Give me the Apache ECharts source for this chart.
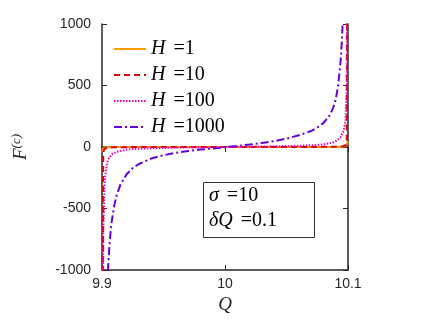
<!DOCTYPE html>
<html lang="en">
<head>
    <meta charset="utf-8">
    <title>F(c) vs Q</title>
    <script src="https://cdn.jsdelivr.net/npm/echarts@6/dist/echarts.min.js"></script>
    <style>
        html, body { margin: 0; padding: 0; background: #fff; }
        #chart { width: 436px; height: 327px; }
    </style>
</head>
<body>
<div id="chart"></div>
<script type="text/javascript">
    // Q samples (denser near the two edges)
    var qValues = [9.9, 9.901, 9.902, 9.903, 9.904, 9.905, 9.906, 9.907, 9.908, 9.91,
        9.912, 9.915, 9.92, 9.925, 9.93, 9.94, 9.95, 9.96, 9.97, 9.98,
        10,
        10.02, 10.03, 10.04, 10.05, 10.06, 10.07, 10.075, 10.08, 10.085, 10.088,
        10.09, 10.092, 10.094, 10.095, 10.096, 10.097, 10.098, 10.099, 10.1];

    // values (out-of-range points get clipped by the grid)
    var h1Values = [-40, -10, -6, -4, -3, -3, -2, -2, -2, -1,
        -1, -1, -1, 0, 0, 0, 0, 0, 0, 0,
        0,
        0, 0, 0, 0, 0, 0, 0, 0, 1, 1,
        1, 1, 2, 2, 3, 4, 6, 10, 45];
    var h10Values = [-5000, -40, -15, -9, -6, -5, -4, -4, -3, -3,
        -2, -2, -2, -1, -1, -1, -1, 0, 0, 0,
        0,
        0, 0, 1, 1, 1, 1, 1, 2, 2, 2,
        3, 3, 4, 5, 6, 8, 14, 40, 5000];
    var h100Values = [-5000, -700, -330, -200, -140, -105, -85, -70, -60, -48,
        -40, -32, -22, -17, -14, -10, -8, -6, -4, -3,
        0,
        3, 4, 6, 8, 10, 14, 17, 22, 30, 38,
        48, 62, 80, 95, 120, 160, 220, 500, 5000];
    var h1000Values = [-4000, -4000, -2500, -1640, -1224, -974, -807, -688, -599, -474,
        -390, -306, -222, -171, -138, -94, -67, -47, -33, -21,
        -2,
        20, 33, 48, 68, 95, 130, 158, 195, 255, 320,
        385, 500, 700, 860, 1080, 1400, 2100, 4000, 4000];

    var seriesNames = ['H =1', 'H =10', 'H =100', 'H =1000'];
    var seriesValues = [h1Values, h10Values, h100Values, h1000Values];
    var seriesColors = ['#ff9a00', '#dd0000', '#ee00bb', '#6600dd'];
    var seriesDash = ['solid', [6, 4], [1.5, 1.5], [8, 3, 2, 3]];

    var xTicks = { min: 9.9, max: 10.1, interval: 0.1 };
    var yTicks = { min: -1000, max: 1000, interval: 500 };

    var axisColor = '#262626';
    var chart = echarts.init(document.getElementById('chart'));

    function pairs(vals) {
        var out = [];
        for (var i = 0; i < qValues.length; i++) {
            out.push([qValues[i], vals[i]]);
        }
        return out;
    }

    var series = [];
    for (var s = 0; s < seriesNames.length; s++) {
        series.push({
            name: seriesNames[s],
            type: 'line',
            data: pairs(seriesValues[s]),
            showSymbol: false,
            symbol: 'none',
            clip: true,
            color: seriesColors[s],
            lineStyle: { color: seriesColors[s], width: 2, type: seriesDash[s] },
            animation: false
        });
    }

    var mathFont = '"Liberation Serif", "DejaVu Serif", serif';
    var tickFont = { color: axisColor, fontSize: 14, fontFamily: '"Liberation Sans", Arial, sans-serif' };

    var option = {
        animation: false,
        grid: { left: 102, right: 88, top: 24, bottom: 57 },
        legend: {
            orient: 'vertical',
            left: 108,
            top: 34,
            itemWidth: 32,
            itemHeight: 14,
            itemGap: 6,
            itemStyle: { opacity: 0 },
            data: seriesNames,
            formatter: function (name) {
                var parts = name.split(' ');
                return '{i|' + parts[0] + '}{s| }{n|' + parts[1] + '}';
            },
            textStyle: {
                rich: {
                    i: { fontFamily: mathFont, fontStyle: 'italic', fontSize: 20, color: '#000', lineHeight: 18 },
                    s: { fontFamily: mathFont, fontSize: 20, width: 8, lineHeight: 18 },
                    n: { fontFamily: mathFont, fontSize: 20, color: '#000', lineHeight: 18 }
                }
            }
        },
        title: {
            text: '{i|σ}{s| }{n|=10}\n{i|δQ}{s| }{n|=0.1}',
            left: 203,
            top: 180,
            borderColor: '#333',
            borderWidth: 1,
            padding: [3, 38, 7, 6],
            textStyle: {
                fontWeight: 'normal',
                rich: {
                    i: { fontFamily: mathFont, fontStyle: 'italic', fontWeight: 'normal', fontSize: 20, color: '#000', lineHeight: 25 },
                    s: { fontFamily: mathFont, fontSize: 20, width: 8, lineHeight: 25 },
                    n: { fontFamily: mathFont, fontWeight: 'normal', fontSize: 20, color: '#000', lineHeight: 25 }
                }
            }
        },
        xAxis: [{
            type: 'value',
            min: xTicks.min,
            max: xTicks.max,
            interval: xTicks.interval,
            name: 'Q',
            nameLocation: 'middle',
            nameGap: 23,
            nameTextStyle: { fontFamily: mathFont, fontStyle: 'italic', fontSize: 19, color: axisColor },
            axisLine: { onZero: false, lineStyle: { color: axisColor, width: 1.5 } },
            axisTick: { inside: true, length: 5, lineStyle: { color: axisColor } },
            axisLabel: Object.assign({ margin: 7, formatter: function (v) { return +v.toFixed(1) + ''; } }, tickFont),
            splitLine: { show: false }
        }, {
            type: 'value',
            position: 'top',
            min: xTicks.min,
            max: xTicks.max,
            interval: xTicks.interval,
            axisLine: { lineStyle: { color: axisColor, width: 1.5 } },
            axisTick: { inside: true, length: 5, lineStyle: { color: axisColor } },
            axisLabel: { show: false },
            splitLine: { show: false }
        }],
        yAxis: [{
            type: 'value',
            min: yTicks.min,
            max: yTicks.max,
            interval: yTicks.interval,
            name: '{a|F}{b|(c)}',
            nameLocation: 'middle',
            nameGap: 70,
            nameRotate: 90,
            nameTextStyle: {
                rich: {
                    a: { fontFamily: mathFont, fontStyle: 'italic', fontSize: 19, color: axisColor },
                    b: { fontFamily: mathFont, fontStyle: 'italic', fontSize: 13, color: axisColor, padding: [0, 0, 9, 0] }
                }
            },
            axisLine: { onZero: false, lineStyle: { color: axisColor, width: 1.5 } },
            axisTick: { inside: true, length: 5, lineStyle: { color: axisColor } },
            axisLabel: Object.assign({ margin: 11, formatter: function (v) { return String(v); } }, tickFont),
            splitLine: { show: false }
        }, {
            type: 'value',
            position: 'right',
            min: yTicks.min,
            max: yTicks.max,
            interval: yTicks.interval,
            axisLine: { lineStyle: { color: axisColor, width: 1.5 } },
            axisTick: { inside: true, length: 5, lineStyle: { color: axisColor } },
            axisLabel: { show: false },
            splitLine: { show: false }
        }],
        series: series
    };
    chart.setOption(option);
</script>
</body>
</html>
